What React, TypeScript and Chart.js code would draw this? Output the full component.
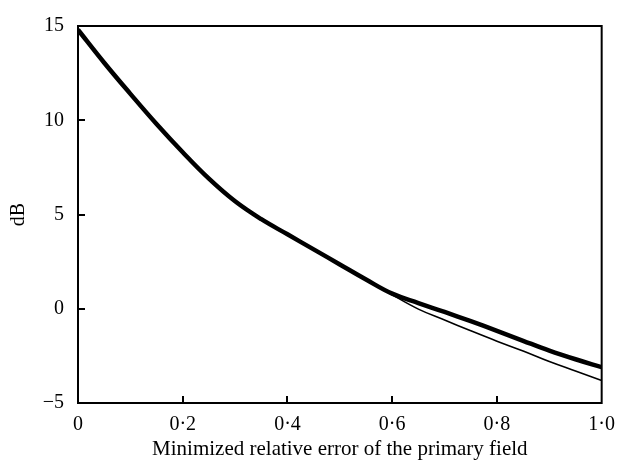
import React, { useEffect, useRef } from "react";
import { Chart, registerables } from "chart.js";

Chart.register(...registerables);

// Minimized relative error of the primary field
const errorValues = [
  0, 0.05, 0.1, 0.15, 0.2, 0.25, 0.3, 0.35, 0.4, 0.45, 0.5,
  0.55, 0.6, 0.65, 0.7, 0.75, 0.8, 0.85, 0.9, 0.95, 1.0,
];

// Attenuation in dB (thick curve)
const thickDb = [
  14.8, 13.05, 11.4, 9.8, 8.3, 6.9, 5.7, 4.75, 3.95, 3.15, 2.35,
  1.55, 0.8, 0.3, -0.17, -0.66, -1.17, -1.7, -2.22, -2.68, -3.1,
];

// Attenuation in dB (thin curve)
const thinDb = [
  14.8, 13.05, 11.4, 9.8, 8.3, 6.9, 5.7, 4.75, 3.95, 3.15, 2.35,
  1.55, 0.74, -0.02, -0.6, -1.17, -1.72, -2.24, -2.8, -3.3, -3.8,
];

const xTicks = [0, 0.2, 0.4, 0.6, 0.8, 1.0];
const yTicks = [-5, 0, 5, 10, 15];

const FONT = "'Liberation Serif', 'Times New Roman', serif";

const toPoints = (ys: number[]) => errorValues.map((x, i) => ({ x, y: ys[i] }));

// Box frame with short inward tick marks on the bottom and left edges
const framePlugin = {
  id: "frameTicks",
  afterDraw(chart: any) {
    const { ctx, chartArea } = chart;
    const { left, right, top, bottom } = chartArea;
    const xs = chart.scales.x;
    const ys = chart.scales.y;
    ctx.save();
    ctx.strokeStyle = "#000";
    ctx.lineWidth = 2;
    ctx.strokeRect(left, top, right - left, bottom - top);
    ctx.beginPath();
    xTicks.slice(1, -1).forEach((v) => {
      const px = Math.round(xs.getPixelForValue(v));
      ctx.moveTo(px, bottom);
      ctx.lineTo(px, bottom - 7);
    });
    yTicks.slice(1, -1).forEach((v) => {
      const py = Math.round(ys.getPixelForValue(v));
      ctx.moveTo(left, py);
      ctx.lineTo(left + 7, py);
    });
    ctx.stroke();
    ctx.restore();
  },
};

export default function App() {
  const canvasRef = useRef<HTMLCanvasElement>(null);

  useEffect(() => {
    const canvas = canvasRef.current;
    if (!canvas) return;
    const chart = new Chart(canvas, {
      type: "line",
      data: {
        datasets: [
          {
            data: toPoints(thickDb),
            borderColor: "#000",
            borderWidth: 4.5,
            pointRadius: 0,
            fill: false,
            tension: 0.4,
          },
          {
            data: toPoints(thinDb),
            borderColor: "#000",
            borderWidth: 1.6,
            pointRadius: 0,
            fill: false,
            tension: 0.4,
          },
        ],
      },
      options: {
        responsive: false,
        animation: false,
        parsing: false,
        layout: { padding: { top: 16, right: 19, left: 0, bottom: 0 } },
        plugins: {
          legend: { display: false },
          tooltip: { enabled: false },
        },
        scales: {
          x: {
            type: "linear",
            min: 0,
            max: 1,
            afterFit: (s: any) => {
              s.height = 66;
            },
            afterBuildTicks: (s: any) => {
              s.ticks = xTicks.map((value) => ({ value }));
            },
            grid: { display: false, drawTicks: false },
            border: { display: false },
            ticks: {
              padding: 10,
              color: "#000",
              maxRotation: 0,
              autoSkip: false,
              font: { family: FONT, size: 20 },
              callback: (v: any) => Number(v).toFixed(1).replace(".", "\u00b7").replace(/^0\u00b70$/, "0"),
            },
            title: {
              display: true,
              text: "Minimized relative error of the primary field",
              color: "#000",
              font: { family: FONT, size: 21 },
              padding: { top: 0, bottom: 7 },
            },
          },
          y: {
            type: "linear",
            min: -5,
            max: 15,
            afterFit: (s: any) => {
              s.width = 78;
            },
            afterBuildTicks: (s: any) => {
              s.ticks = yTicks.map((value) => ({ value }));
            },
            grid: { display: false, drawTicks: false },
            border: { display: false },
            ticks: {
              padding: 14,
              color: "#000",
              autoSkip: false,
              font: { family: FONT, size: 20 },
              callback: (v: any) => (Number(v) < 0 ? "\u2212" + Math.abs(Number(v)) : String(v)),
            },
            title: {
              display: true,
              text: "dB",
              color: "#000",
              font: { family: FONT, size: 20 },
              padding: { top: 7, bottom: 0 },
            },
          },
        },
      },
      plugins: [framePlugin],
    } as any);
    return () => chart.destroy();
  }, []);

  return (
    <div style={{ position: "fixed", left: 0, top: 0, width: 625, height: 469, background: "#fff" }}>
      <canvas ref={canvasRef} width={625} height={469} />
    </div>
  );
}
